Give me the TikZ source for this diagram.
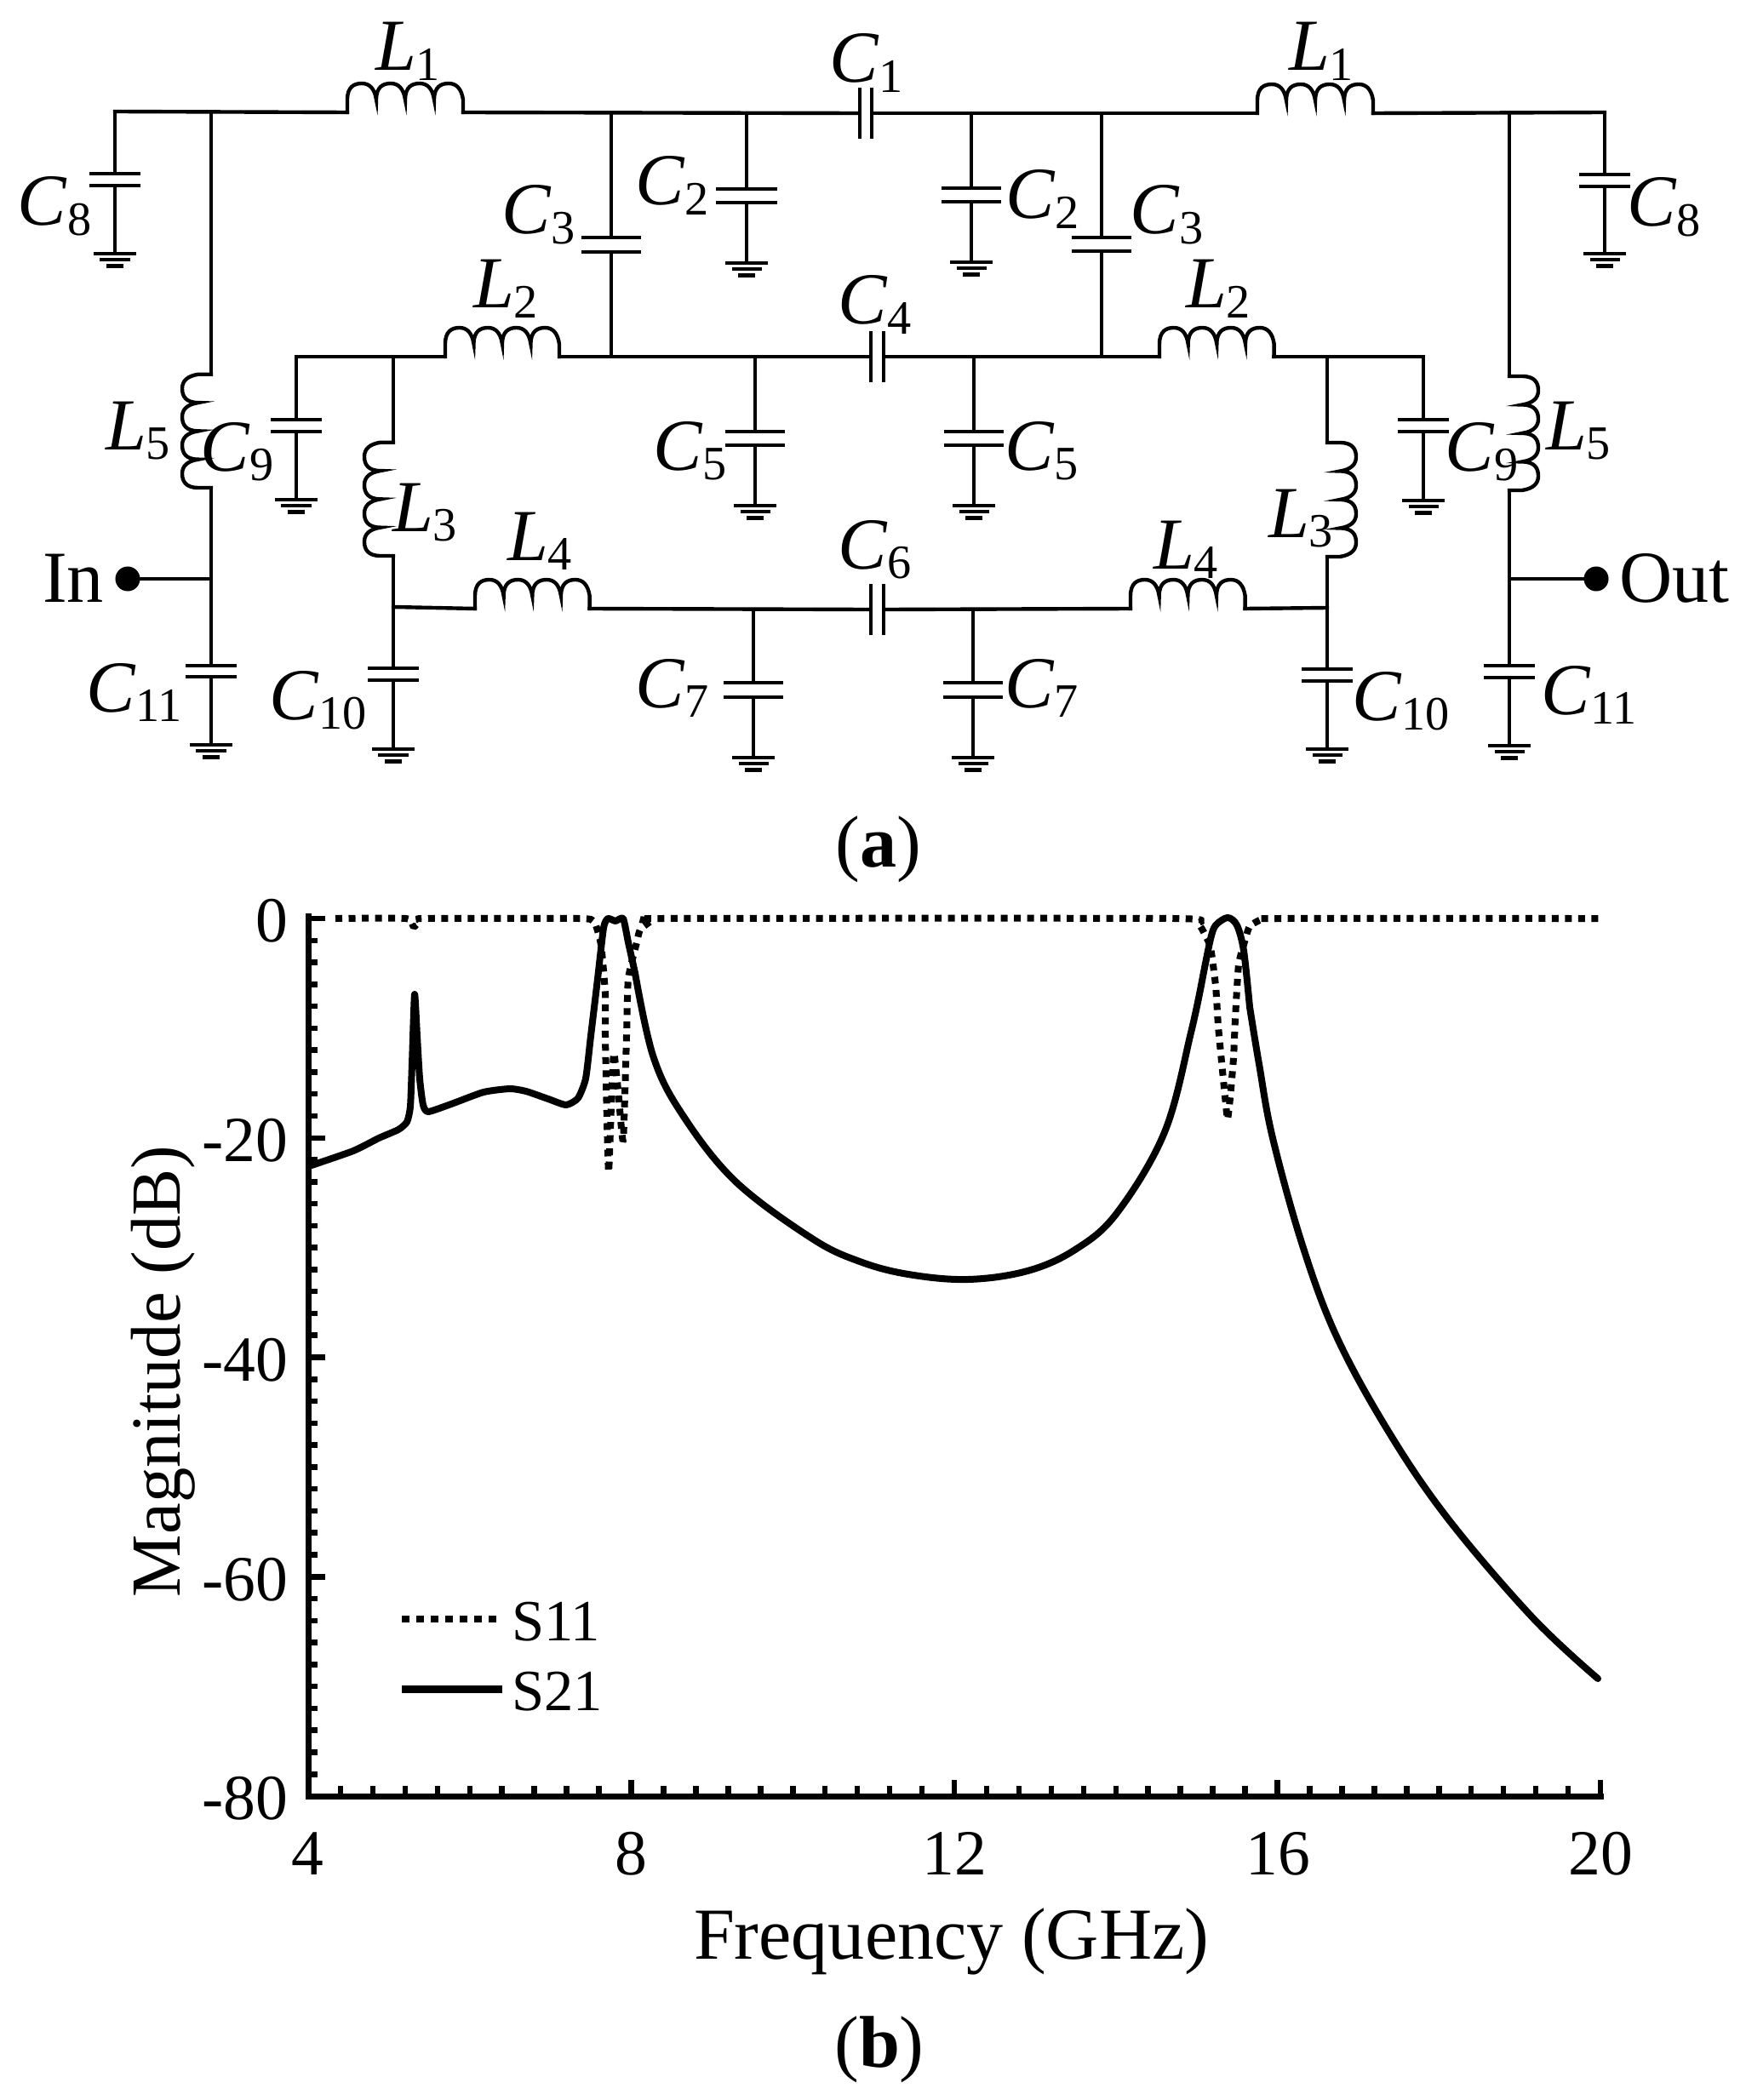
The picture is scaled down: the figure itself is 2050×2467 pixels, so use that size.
\documentclass[tikz,border=0pt]{standalone}
\usepackage{fontspec}
\setmainfont{Liberation Serif}
\usetikzlibrary{positioning}

\newcommand{\labsize}{\fontsize{24.5}{28}\selectfont}
\newcommand{\ticksize}{\fontsize{21.5}{25}\selectfont}
\newcommand{\partsym}[2]{\textit{#1}\raisebox{-3.4pt}{\fontsize{16}{18}\selectfont #2}}

\tikzset{
    wire/.style={line width=1.25pt, line cap=rect},
    plate/.style={fill=black, inner sep=0pt, outer sep=0pt, minimum height=0.045cm},
    serplate/.style={fill=black, inner sep=0pt, outer sep=0pt, minimum width=0.042cm, minimum height=0.6cm},
    gndbar/.style={plate, minimum height=0.042cm},
    port/.style={circle, fill=black, inner sep=0pt, minimum size=0.29cm},
    txt/.style={inner sep=0pt, outer sep=0pt, font=\labsize},
    symlabel/.style={txt, anchor=base west},
    ticklabel/.style={inner sep=0pt, outer sep=0pt, font=\ticksize},
    axisline/.style={line width=0.07cm, line cap=rect},
    tickline/.style={line width=0.065cm},
    s11line/.style={line width=0.08cm, line join=bevel, dash pattern=on 0.08cm off 0.075cm},
    s21line/.style={line width=0.08cm, line join=round, line cap=round},
    pics/coil/.style={code={
        \coordinate (-a) at (0,0);
        \coordinate (-b) at (136,0);
        \draw[wire] (0,0) -- (0,-15)
            \foreach \k in {1,...,4} { .. controls +(0,-15) and +(-9,0) .. ++(17,-19) .. controls +(9,0) and +(-2,-13) .. ++(17,19) }
            -- (136,0);
    }}
}

\begin{document}
\begin{tikzpicture}[x=0.01cm, y=-0.01cm]
    \useasboundingbox (0,0) rectangle (2050,2467);

    % Inductors
    \foreach \n/\x/\y/\r/\s in {L1L/408/132/0/1, L1R/1477/133/0/1, L2L/523/419/0/0.985, L2R/1362/419/0/0.99,
        L4L/558/715/0/0.99, L4R/1328/715/0/0.99, L5L/248/573/90/0.98, L5R/1773/442/-90/0.985,
        L3L/462/653/90/0.98, L3R/1559/520/-90/0.985} {
        \pic[rotate=\r, xscale=\s] (\n) at (\x,\y) {coil};
    }

    % Shunt capacitors with ground
    \foreach \n/\x/\t/\a/\b/\g/\w in {C8L/135/131/204/218/298/0.6, C2L/877/133/222/238/309/0.72, C2R/1141/133/221/237/308/0.7,
        C8R/1885/132/205/219/298/0.6, C5L/887/419/507/523/594/0.7, C5R/1144/419/507/523/594/0.7,
        C9L/348/419/493/507/587/0.6, C9R/1672/419/493/507/588/0.6, C7L/885/716/802/819/890/0.7,
        C7R/1143/716/802/819/890/0.7, C10L/462/653/785/799/880/0.6, C10R/1559/654/786/800/880/0.6,
        C11L/248/573/782/795/875/0.6, C11R/1773/576/782/796/876/0.6} {
        \coordinate (\n t) at (\x,\t);
        \node[plate, minimum width=\w cm] (\n a) at (\x,\a) {};
        \node[plate, minimum width=\w cm] (\n b) at (\x,\b) {};
        \node[gndbar, minimum width=0.5cm] (\n g) at (\x,\g) {};
        \node[gndbar, minimum width=0.35cm, below=0.03cm of \n g] (\n h) {};
        \node[gndbar, minimum width=0.2cm, below=0.03cm of \n h] (\n i) {};
        \draw[wire] (\n t) -- (\n a.north);
        \draw[wire] (\n b.south) -- (\n g.north);
    }

    % Capacitors between the top and middle rails
    \foreach \n/\x/\a/\b in {C3L/718/279/296, C3R/1294/279/295} {
        \coordinate (\n t) at (\x,133);
        \coordinate (\n u) at (\x,419);
        \node[plate, minimum width=0.7cm] (\n a) at (\x,\a) {};
        \node[plate, minimum width=0.7cm] (\n b) at (\x,\b) {};
        \draw[wire] (\n t) -- (\n a.north);
        \draw[wire] (\n b.south) -- (\n u);
    }

    % Series capacitors
    \foreach \n/\xa/\xb/\y in {C1/1010/1024/133, C4/1023/1038/419, C6/1023/1038/716} {
        \node[serplate] (\n a) at (\xa,\y) {};
        \node[serplate] (\n b) at (\xb,\y) {};
    }

    % Rails
    \draw[wire] (C8Lt) -- (L1L-a);
    \draw[wire] (L1L-b) -- (C1a.west);
    \draw[wire] (C1b.east) -- (L1R-a);
    \draw[wire] (L1R-b) -- (C8Rt);
    \draw[wire] (C9Lt) -- (L2L-a);
    \draw[wire] (L2L-b) -- (C4a.west);
    \draw[wire] (C4b.east) -- (L2R-a);
    \draw[wire] (L2R-b) -- (C9Rt);
    \coordinate (L4Lj) at (462,713);
    \coordinate (L4Rj) at (1559,714);
    \draw[wire] (L4Lj) -- (L4L-a);
    \draw[wire] (L4L-b) -- (C6a.west);
    \draw[wire] (C6b.east) -- (L4R-a);
    \draw[wire] (L4R-b) -- (L4Rj);

    % Verticals to the coils
    \coordinate (L5Lt) at (248,132);
    \coordinate (L5Rt) at (1773,132);
    \coordinate (L3Lt) at (462,419);
    \coordinate (L3Rt) at (1559,419);
    \draw[wire] (L5Lt) -- (L5L-b);
    \draw[wire] (L5Rt) -- (L5R-a);
    \draw[wire] (L3Lt) -- (L3L-b);
    \draw[wire] (L3Rt) -- (L3R-a);

    % Ports
    \node[port] (portin) at (150,680) {};
    \node[port] (portout) at (1875,680) {};
    \coordinate (inj) at (248,680);
    \coordinate (outj) at (1773,680);
    \draw[wire] (portin) -- (inj);
    \draw[wire] (portout) -- (outj);
    \node[symlabel] (inlabel) at (50,707) {In};
    \node[symlabel] (outlabel) at (1902,707) {Out};

    % Part labels
    \foreach \l/\k/\x/\y/\n in {L/1/441/83/a, L/1/1514/83/b, L/2/556/362/c, L/2/1393/362/d, L/3/461/624/e, L/3/1490/631/f,
        L/4/596/658/g, L/4/1355/668/h, L/5/124/528/i, L/5/1816/528/j,
        C/1/974/97/k, C/2/746/241/l, C/2/1181/257/m, C/3/589/275/n, C/3/1327/275/o, C/4/984/381/p, C/5/767/552/q,
        C/5/1180/552/r, C/6/984/668/s, C/7/746/831/t, C/7/1180/831/u, C/8/21/265/v, C/8/1911/266/w, C/9/235/553/x,
        C/9/1697/553/y, C/10/316/845/z, C/10/1588/846/aa, C/11/101/836/ab, C/11/1810/839/ac} {
        \node[symlabel] (lab\n) at (\x,\y) {\partsym{\l}{\k}};
    }
    \node[txt, anchor=base] (parta) at (1032,1018) {(\textbf{a})};

    % Axes
    \coordinate (origin) at (362,2110);
    \coordinate (ytop) at (362,1076);
    \coordinate (xend) at (1880,2110);
    \draw[axisline] (ytop) -- (origin) -- (xend);
    \foreach \k [evaluate=\k as \yy using 1079+25.775*\k] in {0,...,39} {
        \draw[tickline] (362,\yy) -- (373,\yy);
    }
    \foreach \k [evaluate=\k as \yy using 1079+25.775*\k] in {0,10,20,30} {
        \draw[tickline] (362,\yy) -- (382,\yy);
    }
    \foreach \k [evaluate=\k as \xx using 362+37.95*\k] in {1,...,40} {
        \draw[tickline] (\xx,2110) -- (\xx,2098);
    }
    \foreach \k [evaluate=\k as \xx using 362+37.95*\k] in {10,20,30,40} {
        \draw[tickline] (\xx,2110) -- (\xx,2091);
    }
    \foreach \t/\y in {0/1106, -20/1364, -40/1622, -60/1880, -80/2137} {
        \node[ticklabel, anchor=base east] (ylab\t) at (338,\y) {\t};
    }
    \foreach \t/\x in {4/361, 8/741, 12/1121, 16/1501, 20/1880} {
        \node[ticklabel, anchor=base] (xlab\t) at (\x,2202) {\t};
    }
    \node[txt, anchor=base west] (xtitle) at (815,2301) {Frequency (GHz)};
    \node[txt, anchor=base, rotate=90, font=\fontsize{23.5}{27}\selectfont] (ytitle) at (211,1611) {Magnitude (dB)};
    \node[txt, anchor=base] (partb) at (1033,2428) {(\textbf{b})};

    % S21
    \draw[s21line] plot[smooth, tension=0.35] coordinates {(363,1370) (415,1352) (445,1337) (468,1327) (478,1318) (482,1300) (484,1250) (487,1168)
        (490,1217) (493,1267) (497,1298) (503,1306) (530,1297) (568,1283) (599,1279) (618,1282) (644,1291) (665,1298) (679,1290) (688,1267) (694,1217)
        (702,1150) (709,1090) (714,1079) (723,1082) (732,1079) (738,1107) (746,1143)}
        plot[smooth, tension=0.6] coordinates {(746,1143) (767,1240) (800,1307) (863,1387) (954,1455) (1010,1482) (1067,1497) (1137,1503) (1207,1493) (1263,1468)
        (1312,1425) (1368,1330) (1399,1213) (1413,1147)}
        plot[smooth, tension=0.5] coordinates {(1413,1147) (1422,1103) (1428,1087) (1442,1078) (1453,1087) (1461,1117) (1468,1183)}
        plot[smooth, tension=0.6] coordinates {(1468,1183) (1479,1250) (1495,1337) (1530,1463) (1570,1570) (1630,1680) (1700,1783) (1800,1900) (1877,1972)};

    % S11
    \draw[s11line] plot[smooth, tension=0.3] coordinates {(394,1079) (477,1079) (486,1089) (493,1081) (498,1079) (680,1079) (698,1083) (706,1110) (711,1167)
        (711,1217) (713,1317) (715,1377) (718,1300) (721,1237) (726,1280) (732,1340) (736,1217) (738,1150) (748,1107) (752,1092) (765,1082) (776,1079)
        (1380,1079) (1407,1085) (1415,1097) (1422,1113) (1428,1158) (1431,1205) (1434,1237) (1437,1268) (1440,1298) (1442,1315) (1445,1290) (1449,1243)
        (1451,1197) (1455,1133) (1463,1103) (1468,1088) (1482,1080) (1500,1079) (1878,1079)};

    % Legend
    \coordinate (s11a) at (472,1902);
    \coordinate (s11b) at (590,1902);
    \coordinate (s21a) at (472,1984);
    \coordinate (s21b) at (590,1984);
    \draw[line width=0.08cm, dash pattern=on 0.09cm off 0.08cm] (s11a) -- (s11b);
    \draw[line width=0.09cm] (s21a) -- (s21b);
    \node[symlabel, font=\fontsize{19.5}{24}\selectfont] (s11text) at (601,1927) {S11};
    \node[symlabel, font=\fontsize{19.5}{24}\selectfont] (s21text) at (601,2009) {S21};
\end{tikzpicture}
\end{document}
